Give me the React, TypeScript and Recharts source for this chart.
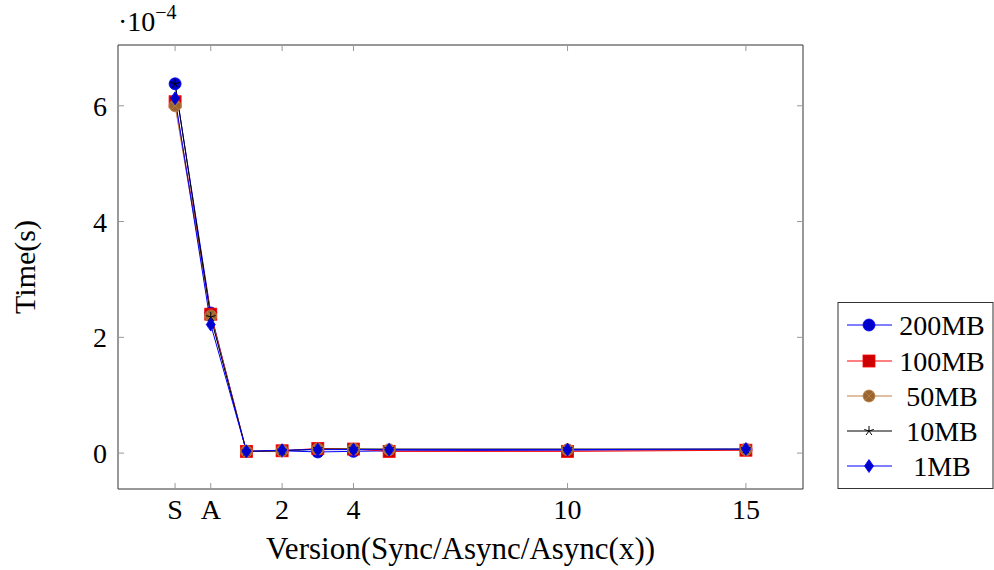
import React from 'react';
import { LineChart, Line, XAxis, YAxis } from 'recharts';

const xValues = [-1, 0, 1, 2, 3, 4, 5, 10, 15];
const xTicks = [-1, 0, 2, 4, 10, 15];
const xTickLabels = ['S', 'A', '2', '4', '10', '15'];
const yTicks = [0, 2e-4, 4e-4, 6e-4];
const yTickLabels = ['0', '2', '4', '6'];

const s200MB = [6.38e-4, 2.42e-4, 0.03e-4, 0.04e-4, 0.02e-4, 0.03e-4, 0.04e-4, 0.05e-4, 0.06e-4];
const s100MB = [6.07e-4, 2.4e-4, 0.03e-4, 0.04e-4, 0.08e-4, 0.07e-4, 0.03e-4, 0.03e-4, 0.05e-4];
const s50MB = [6.0e-4, 2.37e-4, 0.03e-4, 0.04e-4, 0.07e-4, 0.07e-4, 0.06e-4, 0.06e-4, 0.06e-4];
const s10MB = [6.38e-4, 2.35e-4, 0.03e-4, 0.04e-4, 0.07e-4, 0.07e-4, 0.07e-4, 0.07e-4, 0.07e-4];
const s1MB = [6.13e-4, 2.22e-4, 0.03e-4, 0.05e-4, 0.06e-4, 0.06e-4, 0.06e-4, 0.06e-4, 0.07e-4];

const seriesNames = ['200MB', '100MB', '50MB', '10MB', '1MB'];

const data = xValues.map((x, i) => ({
  x,
  '200MB': s200MB[i],
  '100MB': s100MB[i],
  '50MB': s50MB[i],
  '10MB': s10MB[i],
  '1MB': s1MB[i],
}));

const FONT = '"Liberation Serif", "Times New Roman", serif';

type Shape = 'circle' | 'square' | 'otimes' | 'star' | 'diamond';

const styles: Record<string, { line: string; fill: string; shape: Shape }> = {
  '200MB': { line: '#0000ff', fill: '#0000cc', shape: 'circle' },
  '100MB': { line: '#ff0000', fill: '#cc0000', shape: 'square' },
  '50MB': { line: '#bf8040', fill: '#996633', shape: 'otimes' },
  '10MB': { line: '#000000', fill: '#000000', shape: 'star' },
  '1MB': { line: '#0000ff', fill: '#0000cc', shape: 'diamond' },
};

function Marker({ cx, cy, shape, stroke, fill }: { cx: number; cy: number; shape: Shape; stroke: string; fill: string }) {
  if (shape === 'circle') {
    return <circle cx={cx} cy={cy} r={6} fill={fill} stroke={stroke} strokeWidth={0.8} />;
  }
  if (shape === 'square') {
    return <rect x={cx - 6} y={cy - 6} width={12} height={12} fill={fill} stroke={stroke} strokeWidth={0.8} />;
  }
  if (shape === 'otimes') {
    const d = 6 * Math.SQRT1_2;
    return (
      <g>
        <circle cx={cx} cy={cy} r={6} fill={fill} stroke={stroke} strokeWidth={0.8} />
        <path d={`M${cx - d},${cy - d}L${cx + d},${cy + d}M${cx - d},${cy + d}L${cx + d},${cy - d}`} stroke={stroke} strokeWidth={0.8} />
      </g>
    );
  }
  if (shape === 'star') {
    let p = '';
    for (let k = 0; k < 5; k++) {
      const a = -Math.PI / 2 + (k * 2 * Math.PI) / 5;
      p += `M${cx},${cy}L${cx + 5 * Math.cos(a)},${cy + 5 * Math.sin(a)}`;
    }
    return <path d={p} stroke={stroke} strokeWidth={1} fill="none" />;
  }
  return (
    <path
      d={`M${cx},${cy - 6.5}L${cx + 4.5},${cy}L${cx},${cy + 6.5}L${cx - 4.5},${cy}Z`}
      fill={fill}
      stroke={stroke}
      strokeWidth={0.8}
    />
  );
}

const makeDot = (name: string) => (props: any) => {
  const st = styles[name];
  if (props.cx == null || props.cy == null) return <g key={`${name}-${props.index}`} />;
  return (
    <g key={`${name}-${props.index}`}>
      <Marker cx={props.cx} cy={props.cy} shape={st.shape} stroke={st.line} fill={st.fill} />
    </g>
  );
};

const TICK_COLOR = '#999999';
const FRAME_COLOR = '#333333';

const BottomTick = (props: any) => {
  const { x, y, payload } = props;
  const idx = xTicks.indexOf(payload.value);
  return (
    <g>
      <line x1={x} y1={y} x2={x} y2={y - 6} stroke={TICK_COLOR} strokeWidth={1} />
      <text x={x} y={y + 30} textAnchor="middle" fontFamily={FONT} fontSize={28} fill="#000">
        {idx >= 0 ? xTickLabels[idx] : ''}
      </text>
    </g>
  );
};

const TopTick = (props: any) => {
  const { x, y } = props;
  return <line x1={x} y1={y} x2={x} y2={y + 6} stroke={TICK_COLOR} strokeWidth={1} />;
};

const LeftTick = (props: any) => {
  const { x, y, payload } = props;
  const idx = yTicks.indexOf(payload.value);
  return (
    <g>
      <line x1={x} y1={y} x2={x + 6} y2={y} stroke={TICK_COLOR} strokeWidth={1} />
      <text x={x - 11} y={y + 10} textAnchor="end" fontFamily={FONT} fontSize={28} fill="#000">
        {idx >= 0 ? yTickLabels[idx] : ''}
      </text>
    </g>
  );
};

const RightTick = (props: any) => {
  const { x, y } = props;
  return <line x1={x} y1={y} x2={x - 6} y2={y} stroke={TICK_COLOR} strokeWidth={1} />;
};

function LegendBox() {
  const rowY = [325, 361, 396, 431, 466];
  return (
    <svg width={994} height={570} style={{ position: 'absolute', left: 0, top: 0, pointerEvents: 'none' }}>
      <rect x={838} y={302.5} width={155} height={186} fill="#fff" stroke={FRAME_COLOR} strokeWidth={1} />
      {seriesNames.map((n, i) => {
        const st = styles[n];
        return (
          <g key={n}>
            <line x1={847} y1={rowY[i]} x2={892} y2={rowY[i]} stroke={st.line} strokeWidth={1} />
            <Marker cx={869} cy={rowY[i]} shape={st.shape} stroke={st.line} fill={st.fill} />
            <text x={942} y={rowY[i] + 10} textAnchor="middle" fontFamily={FONT} fontSize={28} fill="#000">
              {n}
            </text>
          </g>
        );
      })}
    </svg>
  );
}

export default function App() {
  return (
    <div style={{ position: 'absolute', left: 0, top: 0, width: 994, height: 570, background: '#fff' }}>
      <LineChart width={994} height={570} data={data} margin={{ top: 44, right: 190, bottom: 41, left: 78 }}>
        <XAxis
          xAxisId="b"
          dataKey="x"
          type="number"
          domain={[-2.6, 16.6]}
          ticks={xTicks}
          interval={0}
          allowDataOverflow
          height={40}
          tickSize={0}
          tickMargin={0}
          tickLine={false}
          axisLine={{ stroke: FRAME_COLOR, strokeWidth: 1 }}
          tick={<BottomTick />}
        />
        <XAxis
          xAxisId="t"
          dataKey="x"
          type="number"
          orientation="top"
          domain={[-2.6, 16.6]}
          ticks={xTicks}
          interval={0}
          allowDataOverflow
          height={1}
          tickSize={0}
          tickMargin={0}
          tickLine={false}
          axisLine={{ stroke: FRAME_COLOR, strokeWidth: 1 }}
          tick={<TopTick />}
        />
        <YAxis
          yAxisId="l"
          type="number"
          domain={[-0.62e-4, 7.05e-4]}
          ticks={yTicks}
          interval={0}
          allowDataOverflow
          width={40}
          tickSize={0}
          tickMargin={0}
          tickLine={false}
          axisLine={{ stroke: FRAME_COLOR, strokeWidth: 1 }}
          tick={<LeftTick />}
        />
        <YAxis
          yAxisId="r"
          type="number"
          orientation="right"
          domain={[-0.62e-4, 7.05e-4]}
          ticks={yTicks}
          interval={0}
          allowDataOverflow
          width={1}
          tickSize={0}
          tickMargin={0}
          tickLine={false}
          axisLine={{ stroke: FRAME_COLOR, strokeWidth: 1 }}
          tick={<RightTick />}
        />
        {seriesNames.map((n) => (
          <Line
            key={n}
            xAxisId="b"
            yAxisId="l"
            type="linear"
            dataKey={n}
            stroke={styles[n].line}
            strokeWidth={1}
            dot={makeDot(n)}
            activeDot={false}
            isAnimationActive={false}
          />
        ))}
      </LineChart>
      <LegendBox />
      <div
        style={{
          position: 'absolute',
          left: 118,
          top: 2,
          fontFamily: FONT,
          fontSize: 28,
          lineHeight: '40px',
          whiteSpace: 'nowrap',
        }}
      >
        ·10<sup style={{ fontSize: 20, verticalAlign: 'top', position: 'relative', top: -10 }}>−4</sup>
      </div>
      <div
        style={{
          position: 'absolute',
          left: 118,
          width: 685,
          top: 531,
          textAlign: 'center',
          fontFamily: FONT,
          fontSize: 31,
          lineHeight: '36px',
          whiteSpace: 'nowrap',
        }}
      >
        Version(Sync/Async/Async(x))
      </div>
      <div
        style={{
          position: 'absolute',
          left: 25,
          top: 267,
          transform: 'translate(-50%, -50%) rotate(-90deg)',
          fontFamily: FONT,
          fontSize: 30,
          lineHeight: '34px',
          whiteSpace: 'nowrap',
        }}
      >
        Time(s)
      </div>
    </div>
  );
}
